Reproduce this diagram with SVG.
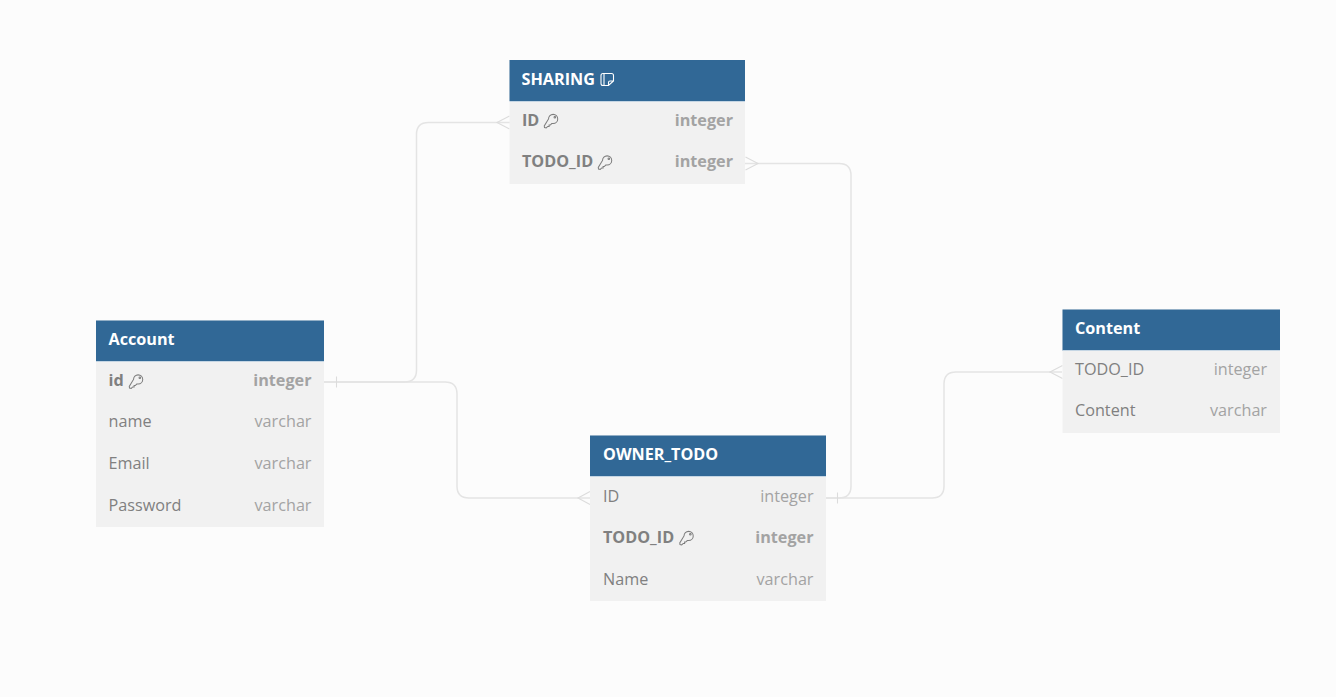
<svg xmlns="http://www.w3.org/2000/svg" width="1336" height="697" viewBox="0 0 1336 697">
<style>
.body{fill:#f1f1f1}
.head{fill:#316896}
.sep{stroke:#c5d6e4;stroke-width:1}
.t{font-family:"Open Sans","Liberation Sans",sans-serif;font-size:16.2px}
.title{font-weight:700;fill:#fff}
.name{fill:#808080}
.type{fill:#a3a3a3;text-anchor:end}
.b{font-weight:700}
.conn{fill:none;stroke:#e4e4e4;stroke-width:1.5}
.mark{fill:none;stroke:#dcdcdc;stroke-width:1.1}
.key{fill:none;stroke:#7d7d7d;stroke-width:.9}
</style>
<defs>
<g id="key" transform="scale(1.15)"><path class="key" d="M3.500 6.500a4 4 0 1 1 4 4l-1.200 0l-1.300 1.300l-1 0l0 1.200l-1.200 0l-1.300 1.200l-1.500-.2l-.2-1.500z"/><circle class="key" cx="9" cy="5" r=".7"/></g>
</defs>
<rect width="1336" height="697" fill="#fcfcfc"/>
<g id="connectors">
<path class="conn" d="M324 382H404.500Q416.500 382 416.500 370V134.500Q416.500 122.500 428.500 122.500H510"/>
<path class="conn" d="M324 382H445Q457 382 457 394V486Q457 498 469 498H590"/>
<path class="conn" d="M745 163.500H839Q851 163.500 851 175.500V486Q851 498 839 498H826"/>
<path class="conn" d="M826 498H932Q944 498 944 486V384Q944 372 956 372H1062"/>
<path class="mark" d="M336.500 376.500V387.500"/>
<path class="mark" d="M837.500 492.500V503.500"/>
<path class="mark" d="M509.500 116L497 122.500L509.500 129"/>
<path class="mark" d="M590 491.500L578 498L590 504.500"/>
<path class="mark" d="M1062.500 365.500L1050 372L1062.500 378.500"/>
<path class="mark" d="M745.500 157L758 163.500L745.500 170"/>
</g>
<g id="sharing">
<rect class="body" x="509.500" y="60" width="235.500" height="124"/>
<rect class="head" x="509.500" y="60" width="235.500" height="41"/>
<path class="sep" d="M509.500 101.500H745"/>
<text class="t title" x="521.500" y="85">SHARING</text>
<path d="M603 73.500H611.500Q613.500 73.500 613.500 75.500V81L608.500 85.500H603Q601 85.500 601 83.500V75.500Q601 73.500 603 73.500ZM604 73.500V85.500M613.500 81H610Q608.500 81 608.500 82.500V85.500" fill="none" stroke="#fff" stroke-width="1.100"/>
<text class="t name b" x="522" y="126">ID</text>
<use href="#key" x="544.500" y="111.500"/>
<text class="t type b" x="733" y="126">integer</text>
<text class="t name b" x="522" y="167">TODO_ID</text>
<use href="#key" x="598.500" y="153"/>
<text class="t type b" x="733" y="167">integer</text>
</g>
<g id="account">
<rect class="body" x="96" y="320.500" width="228" height="206.500"/>
<rect class="head" x="96" y="320.500" width="228" height="41"/>
<path class="sep" d="M96 361.500H324"/>
<text class="t title" x="108.500" y="345">Account</text>
<text class="t name b" x="108.500" y="386">id</text>
<use href="#key" x="129.500" y="372"/>
<text class="t type b" x="311.500" y="386">integer</text>
<text class="t name" x="108.500" y="427">name</text>
<text class="t type" x="311.500" y="427">varchar</text>
<text class="t name" x="108.500" y="469">Email</text>
<text class="t type" x="311.500" y="469">varchar</text>
<text class="t name" x="108.500" y="510.500">Password</text>
<text class="t type" x="311.500" y="510.500">varchar</text>
</g>
<g id="owner_todo">
<rect class="body" x="590" y="435.500" width="236" height="165.500"/>
<rect class="head" x="590" y="435.500" width="236" height="41"/>
<path class="sep" d="M590 476.500H826"/>
<text class="t title" x="603" y="460">OWNER_TODO</text>
<text class="t name" x="603" y="501.500">ID</text>
<text class="t type" x="813.500" y="501.500">integer</text>
<text class="t name b" x="603" y="542.500">TODO_ID</text>
<use href="#key" x="680" y="528.500"/>
<text class="t type b" x="813.500" y="542.500">integer</text>
<text class="t name" x="603" y="584.500">Name</text>
<text class="t type" x="813.500" y="584.500">varchar</text>
</g>
<g id="content">
<rect class="body" x="1062.500" y="309.500" width="217.500" height="123.500"/>
<rect class="head" x="1062.500" y="309.500" width="217.500" height="41"/>
<path class="sep" d="M1062.500 350.500H1280"/>
<text class="t title" x="1075" y="334">Content</text>
<text class="t name" x="1075" y="375">TODO_ID</text>
<text class="t type" x="1267" y="375">integer</text>
<text class="t name" x="1075" y="416">Content</text>
<text class="t type" x="1267" y="416">varchar</text>
</g>
</svg>
